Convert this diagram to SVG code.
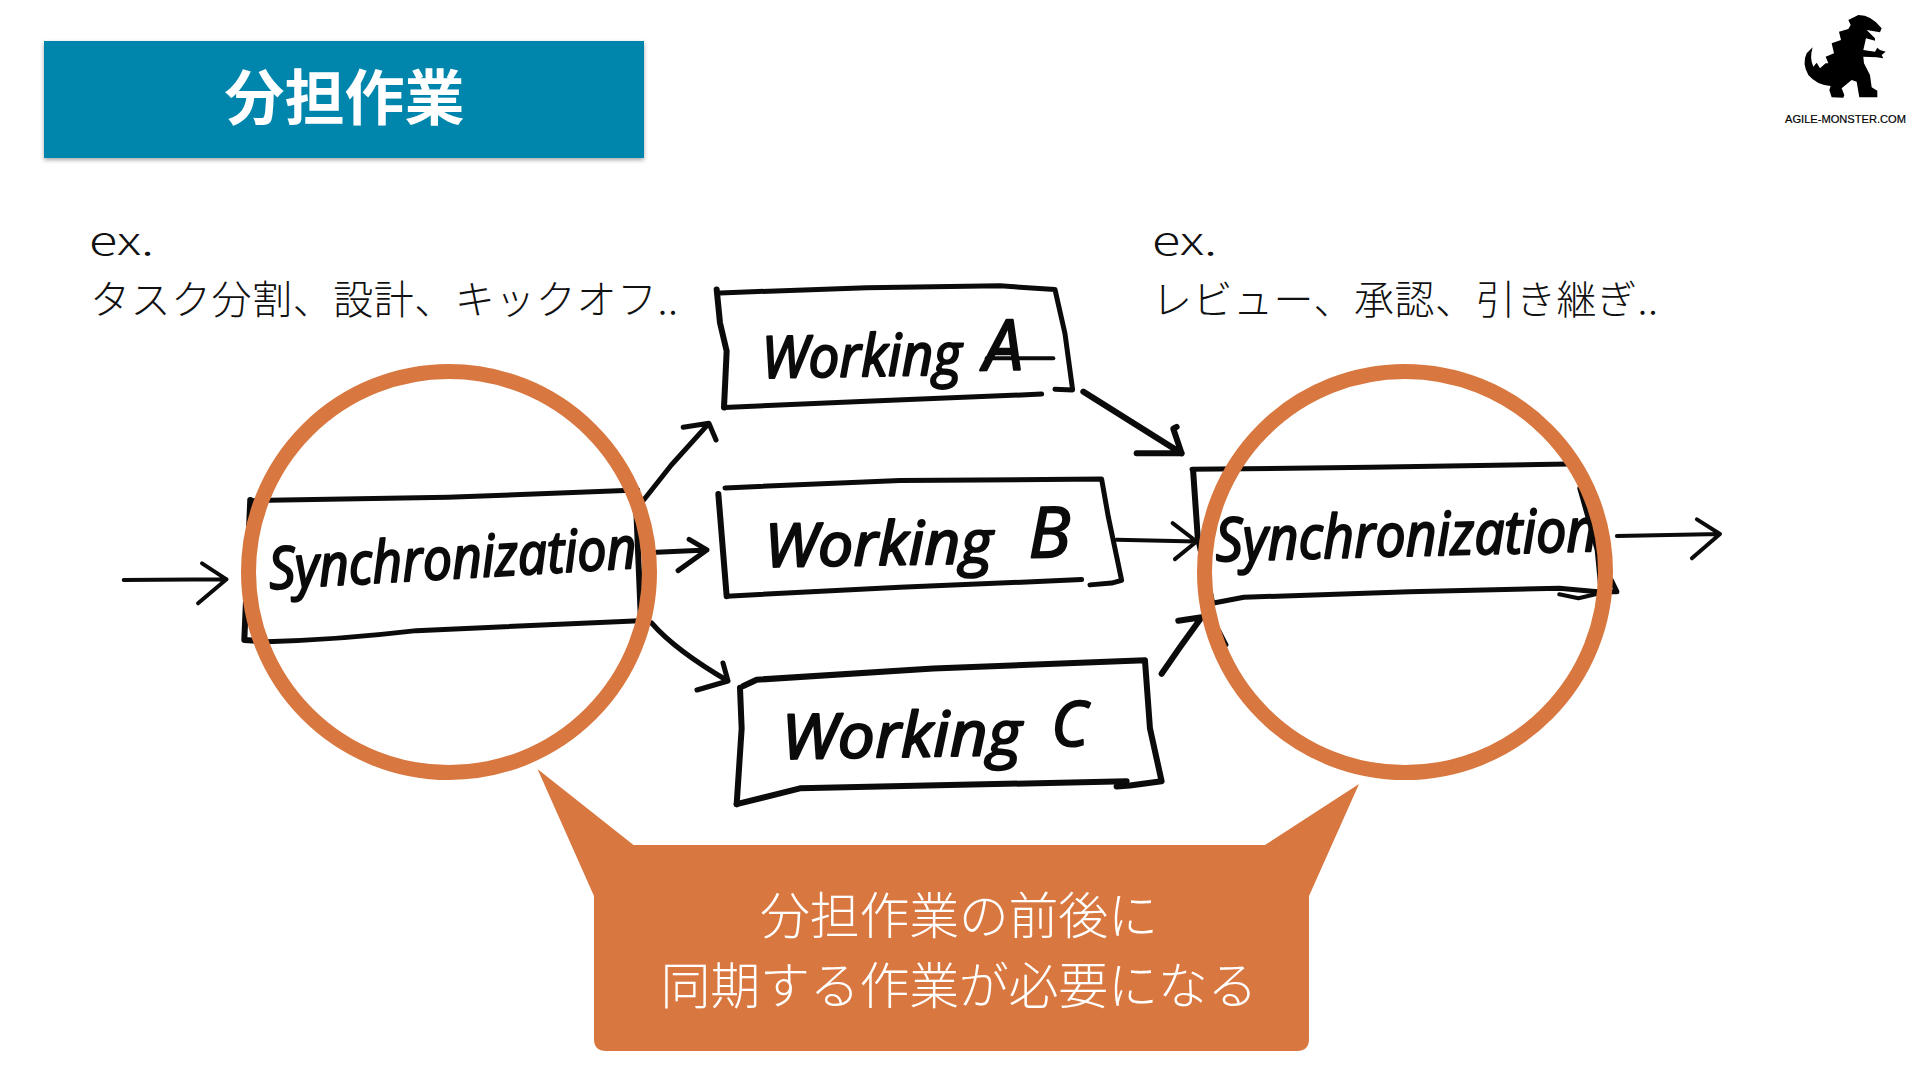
<svg xmlns="http://www.w3.org/2000/svg" width="1920" height="1080" viewBox="0 0 1920 1080">
<defs>
<style>
.ink{fill:none;stroke:#0b0b0b;stroke-linecap:round;stroke-linejoin:round;vector-effect:non-scaling-stroke;stroke-width:5}
.thin{stroke-width:4}
.thick{stroke-width:6}
.hand{font-family:"Open Sans","Noto Sans",sans-serif;font-style:italic;font-weight:400;fill:#0b0b0b;stroke:#0b0b0b;stroke-width:2.2;stroke-linejoin:round}
.jp{font-family:"Noto Sans CJK JP","Noto Sans",sans-serif;font-size:40px;font-weight:300;fill:#111}
.call{font-family:"Noto Sans CJK JP","Noto Sans",sans-serif;font-size:50px;font-weight:300;fill:#fff;text-anchor:middle}
.ring{fill:none;stroke:#D8773F;stroke-width:15}
</style>
<filter id="sh" x="-5%" y="-10%" width="110%" height="125%"><feDropShadow dx="0" dy="2" stdDeviation="2" flood-color="#000" flood-opacity=".35"/></filter>
</defs>
<rect width="1920" height="1080" fill="#fff"/>

<g id="title">
<rect x="44" y="41" width="600" height="117" fill="#0386AC" filter="url(#sh)"/>
<text x="344.500" y="120" text-anchor="middle" font-family="'Noto Sans CJK JP','Noto Sans',sans-serif" font-size="60" font-weight="700" fill="#fff">分担作業</text>
</g>

<g id="logo">
<path transform="translate(1760,0) scale(.3333)" fill="#000" d="M265,60L295,45Q335,45 365,85L360,97L320,90L345,115L345,122L318,115L310,150L345,155L352,143L360,150L377,155L365,165L370,175L350,172L310,170L312,190L330,225L335,262L352,272L352,292L298,292L290,245L275,240L245,265L253,285L250,293L215,292L208,270L212,258Q170,255 145,225Q125,190 140,160L158,142Q148,175 160,200L170,188L180,205L197,190L205,190L197,170L222,160L215,130L243,120L237,95L265,87L272,75Z"/>
<text x="1785" y="123" font-family="'Liberation Sans',Arial,sans-serif" font-size="11.600" textLength="121" lengthAdjust="spacingAndGlyphs" fill="#000" stroke="#000" stroke-width=".2">AGILE-MONSTER.COM</text>
</g>

<g id="note-left">
<text class="jp" x="89" y="255" textLength="65" lengthAdjust="spacingAndGlyphs">ex.</text>
<text class="jp" x="90" y="314" textLength="588">タスク分割、設計、キックオフ..</text>
</g>
<g id="note-right">
<text class="jp" x="1152" y="255" textLength="65" lengthAdjust="spacingAndGlyphs">ex.</text>
<text class="jp" x="1152" y="314" textLength="506">レビュー、承認、引き継ぎ..</text>
</g>

<g id="sync-left">
<g transform="translate(100,350) scale(.3954,.3333)">
<path class="ink" d="M385,452L880,442L1360,420"/>
<path class="ink thick" d="M380,450L365,870L420,875"/>
<path class="ink" d="M420,875Q600,870 800,842L1365,812"/>
<path class="ink thick" d="M1355,440L1368,810"/>
</g>
<text class="hand" transform="translate(270,589) rotate(-3.300)" font-size="58" textLength="368" lengthAdjust="spacingAndGlyphs">Synchronization</text>
</g>

<g id="working-a">
<g transform="translate(700,270) scale(.3333,.3526)">
<path class="ink thick" d="M50,55L60,150L80,230L72,390"/>
<path class="ink" d="M60,65L500,50L900,45L1065,55L1095,180L1118,340L1065,338"/>
<path class="ink" d="M72,390L500,372L1025,352"/>
<path class="ink thin" d="M860,250L1060,250"/>
</g>
<text class="hand" transform="translate(762,378) rotate(-1)" font-size="58"><tspan textLength="200" lengthAdjust="spacingAndGlyphs">Working</tspan><tspan x="222" y="-4" font-size="70">A</tspan></text>
</g>

<g id="working-b">
<g transform="translate(700,270) scale(.3333,.3526)">
<path class="ink" d="M75,618L600,597L1205,593L1225,700L1265,880L1235,888L1170,893"/>
<path class="ink thick" d="M55,635L80,925"/>
<path class="ink" d="M80,925L600,900L1145,878"/>
</g>
<text class="hand" transform="translate(765,567) rotate(-1)" font-size="60"><tspan textLength="228" lengthAdjust="spacingAndGlyphs">Working</tspan><tspan x="264" y="-5" font-size="70">B</tspan></text>
</g>

<g id="working-c">
<g transform="translate(700,270) scale(.3333,.3526)">
<path class="ink thick" d="M120,1185L125,1300L110,1515"/>
<path class="ink thick" d="M130,1180L170,1162L700,1130L1335,1107L1350,1300L1385,1450L1290,1462L1250,1465"/>
<path class="ink thick" d="M110,1515L300,1470L1280,1450"/>
</g>
<text class="hand" transform="translate(782,759) rotate(-1)" font-size="62"><tspan textLength="240" lengthAdjust="spacingAndGlyphs">Working</tspan><tspan x="270" y="-8">C</tspan></text>
</g>

<g id="sync-right">
<g transform="translate(1140,360) scale(.3846,.3333)">
<path class="ink" d="M135,328L600,322L1115,312"/>
<path class="ink thick" d="M138,330L150,530L188,730"/>
<path class="ink" d="M188,730L270,712L700,695L1090,685L1190,695L1240,695L1225,660"/>
<path class="ink thin" d="M1090,703L1140,715L1195,700"/>
<path class="ink thick" d="M1145,385L1190,570L1200,690"/>
</g>
<text class="hand" transform="translate(1216,561) rotate(-1.500)" font-size="60" textLength="382" lengthAdjust="spacingAndGlyphs">Synchronization</text>
</g>

<g id="connectors">
<g transform="translate(100,350) scale(.3954,.3333)">
<path class="ink thin" d="M60,690L320,688M258,640L320,688L248,760"/>
<path class="ink" d="M1375,450L1445,345L1540,220M1475,232L1540,220L1558,270"/>
<path class="ink" d="M1408,607L1535,600M1490,568L1535,600L1462,662"/>
</g>
<path class="ink" d="M651.600,623Q675,650 728,681M723,663L728,681L697,690"/>
<g transform="translate(700,270) scale(.3333,.3526)">
<path class="ink thick" d="M1150,345L1445,520M1430,445L1420,450L1445,520L1310,520"/>
<path class="ink thin" d="M1250,765L1490,770M1418,718L1490,770L1425,820"/>
<path class="ink thick" d="M1385,1145L1440,1070L1505,985M1435,995L1505,985"/>
</g>
<g transform="translate(1140,360) scale(.3846,.3333)">
<path class="ink thin" d="M1240,528L1508,522M1448,478L1508,522L1435,595"/>
<path class="ink thin" d="M205,810L225,855"/>
</g>
</g>

<g id="ring-left"><circle class="ring" cx="449" cy="572" r="200.500"/></g>
<g id="ring-right"><circle class="ring" cx="1405" cy="572" r="200.500"/></g>

<g id="callout">
<path fill="#D8773F" d="M537.500,769L633.500,845L1265,845L1359,784L1309,896L1309,1039Q1309,1051 1297,1051L606,1051Q594,1051 594,1039L594,896Z"/>
<text class="call" x="959" y="934" textLength="398">分担作業の前後に</text>
<text class="call" x="959" y="1004" textLength="597">同期する作業が必要になる</text>
</g>
</svg>
